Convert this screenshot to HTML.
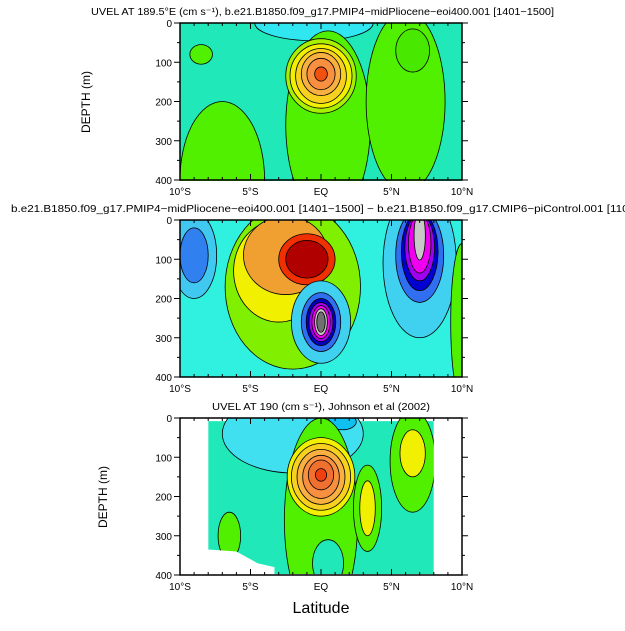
<!DOCTYPE html>
<html><head><meta charset="utf-8"><style>
body{margin:0;background:#fff;width:625px;height:626px;overflow:hidden}
svg text{font-family:"Liberation Sans",sans-serif;fill:#000}
</style></head><body>
<svg id="s" width="625" height="626" xmlns="http://www.w3.org/2000/svg">
<defs>
<clipPath id="c1"><rect x="180" y="23" width="282" height="158"/></clipPath>
<clipPath id="c2"><rect x="180" y="220" width="282" height="157"/></clipPath>
<clipPath id="c3"><rect x="180" y="418" width="282" height="156"/></clipPath>
</defs>
<text x="91" y="15" font-size="10" textLength="463" lengthAdjust="spacingAndGlyphs">UVEL AT 189.5°E (cm s⁻¹), b.e21.B1850.f09_g17.PMIP4−midPliocene−eoi400.001 [1401−1500]</text>
<text x="11" y="212" font-size="10" textLength="660" lengthAdjust="spacingAndGlyphs">b.e21.B1850.f09_g17.PMIP4−midPliocene−eoi400.001 [1401−1500] − b.e21.B1850.f09_g17.CMIP6−piControl.001 [1101−1200]</text>
<text x="212" y="410" font-size="10" textLength="218" lengthAdjust="spacingAndGlyphs">UVEL AT 190 (cm s⁻¹), Johnson et al (2002)</text>
<text x="90" y="102" font-size="12" text-anchor="middle" transform="rotate(-90 90 102)">DEPTH (m)</text>
<text x="107" y="497" font-size="12" text-anchor="middle" transform="rotate(-90 107 497)">DEPTH (m)</text>
<text x="321" y="613" font-size="16" text-anchor="middle">Latitude</text>
<g id="g1" clip-path="url(#c1)"></g>
<g id="g2" clip-path="url(#c2)"></g>
<g id="g3" clip-path="url(#c3)"></g>
<g id="axes"></g>
</svg>
<script>
// Feature arrays: lat center, depth center, lat radius, depth radius, fill
const p1Lat=[-0.5,-7,0.5,6,-8.5,6.5,0,0,0,0,0,0];
const p1Dep=[0,400,260,200,80,70,135,135,135,130,130,130];
const p1Rx=[4.2,3,3,2.8,0.8,1.2,2.5,2.2,1.8,1.4,1.0,0.45];
const p1Ry=[45,200,240,230,25,55,95,82,70,55,40,18];
const p1Col=["#30e6f0","#50f000","#50f000","#50f000","#50f000","#48e800","#a8f000","#f0f000","#f8d020","#f8b040","#f89040","#f05010"];
const p2Lat=[-2,-9,-9,-3,-2.5,-1,-1,0,0,0,0,0,0,0,7,7,7,7,7,7,10];
const p2Dep=[170,90,90,130,90,100,100,260,260,260,260,260,260,260,110,90,80,70,60,40,260];
const p2Rx=[4.8,1.6,1,3.2,3,2,1.5,2.1,1.4,1.05,0.85,0.65,0.45,0.3,2.6,1.7,1.3,1.05,0.8,0.4,0.8];
const p2Ry=[210,110,70,130,100,65,48,105,75,60,50,42,34,26,190,120,100,85,75,62,200];
const p2Col=["#80f000","#40c8f0","#3080f0","#f0f000","#f0a030","#f03000","#b00000","#40d0f0","#3070f0","#0000c0","#a000f0","#f000f0","#c8c8c8","#707070","#40d0f0","#3070f0","#0000d0","#a000f0","#f000f0","#c8c8c8","#50f000"];
const p3Lat=[-2,1.5,0,0.5,6.5,6.5,3.3,3.3,-6.5,0,0,0,0,0,0];
const p3Dep=[40,10,260,370,110,90,230,230,300,150,150,150,150,145,145];
const p3Rx=[5,1,2.6,1.1,1.6,0.9,1,0.55,0.8,2.4,2.1,1.7,1.3,0.9,0.4];
const p3Ry=[100,20,260,60,130,60,110,70,60,100,85,70,55,38,16];
const p3Col=["#40e0f0","#10c0f0","#50f000","#20e8b8","#50f000","#f0f000","#50f000","#f0f000","#50f000","#f0f000","#f8d020","#f8b040","#f89040","#f07030","#f04010"];
const xTicks=[-10,-5,0,5,10];
const xLabels=["10°S","5°S","EQ","5°N","10°N"];
const yTicks=[0,100,200,300,400];
const panels=[{g:"g1",top:23,bg:"#20e8b8",lat:p1Lat,dep:p1Dep,rx:p1Rx,ry:p1Ry,col:p1Col},
{g:"g2",top:220,bg:"#30f0e0",lat:p2Lat,dep:p2Dep,rx:p2Rx,ry:p2Ry,col:p2Col},
{g:"g3",top:418,bg:"#ffffff",lat:p3Lat,dep:p3Dep,rx:p3Rx,ry:p3Ry,col:p3Col}];
const NS="http://www.w3.org/2000/svg";
const X0=180,W=282,H=157;
const xs=l=>X0+(l+10)/20*W;
const ys=(d,t)=>t+d/400*H;
function mk(tag,a,parent){const e=document.createElementNS(NS,tag);for(const k in a)e.setAttribute(k,a[k]);parent.appendChild(e);return e;}
panels.forEach((p,pi)=>{
  const g=document.getElementById(p.g);
  const bg=mk("rect",{x:X0,y:p.top,width:W,height:H+1,fill:p.bg},g);
  
  
  if(pi===2){
    const d=mk("rect",{x:xs(-8),y:ys(8,p.top),width:xs(8)-xs(-8),height:H-3,fill:"#20e8b8"},g);
    
    
  }
  for(let i=0;i<p.lat.length;i++){
    const cx=xs(p.lat[i]),cy=ys(p.dep[i],p.top);
    const e=mk("ellipse",{cx:cx,cy:cy,rx:p.rx[i]/20*W,ry:p.ry[i]/400*H,fill:p.col[i],stroke:"#000","stroke-width":0.8},g);
    
    
  }
  if(pi===2){
    const m=mk("path",{d:`M${xs(-8)} ${ys(335,p.top)} L${xs(-6)} ${ys(340,p.top)} L${xs(-4.5)} ${ys(370,p.top)} L${xs(-3.3)} ${ys(380,p.top)} L${xs(-3.3)} ${ys(401,p.top)} L${xs(-8.1)} ${ys(401,p.top)}Z`,fill:"#fff"},g);
    
    
    const r=mk("rect",{x:xs(8),y:p.top,width:xs(10)-xs(8)+1,height:H+1,fill:"#fff"},g);
    
    
    const l=mk("rect",{x:X0,y:p.top,width:xs(-8)-X0,height:H+1,fill:"#fff"},g);
    
    
  }
  const ax=document.getElementById("axes");
  const fr=mk("rect",{x:X0,y:p.top,width:W,height:H,fill:"none",stroke:"#000","stroke-width":1.5},ax);
  
  
  for(let l=-10;l<=10;l++){
    const len=(l%5===0)?6:3, x=xs(l);
    mk("line",{x1:x,x2:x,y1:p.top+H,y2:p.top+H-len,stroke:"#000"},ax);
    mk("line",{x1:x,x2:x,y1:p.top,y2:p.top+len,stroke:"#000"},ax);
  }
  xTicks.forEach((t,i)=>{
    const tx=mk("text",{x:xs(t),y:p.top+H+15,"font-size":10,"text-anchor":"middle"},ax);
    tx.textContent=xLabels[i];
    
    
  });
  for(let d=0;d<=400;d+=50){
    const len=(d%100===0)?6:3,y=ys(d,p.top);
    mk("line",{x1:X0,x2:X0-len,y1:y,y2:y,stroke:"#000"},ax);
    mk("line",{x1:X0+W,x2:X0+W+len,y1:y,y2:y,stroke:"#000"},ax);
  }
  yTicks.forEach(t=>{
    const ty=mk("text",{x:X0-8,y:ys(t,p.top)+4,"font-size":10,"text-anchor":"end"},ax);
    ty.textContent=t;
    
    
  });
});
</script>
</body></html>
